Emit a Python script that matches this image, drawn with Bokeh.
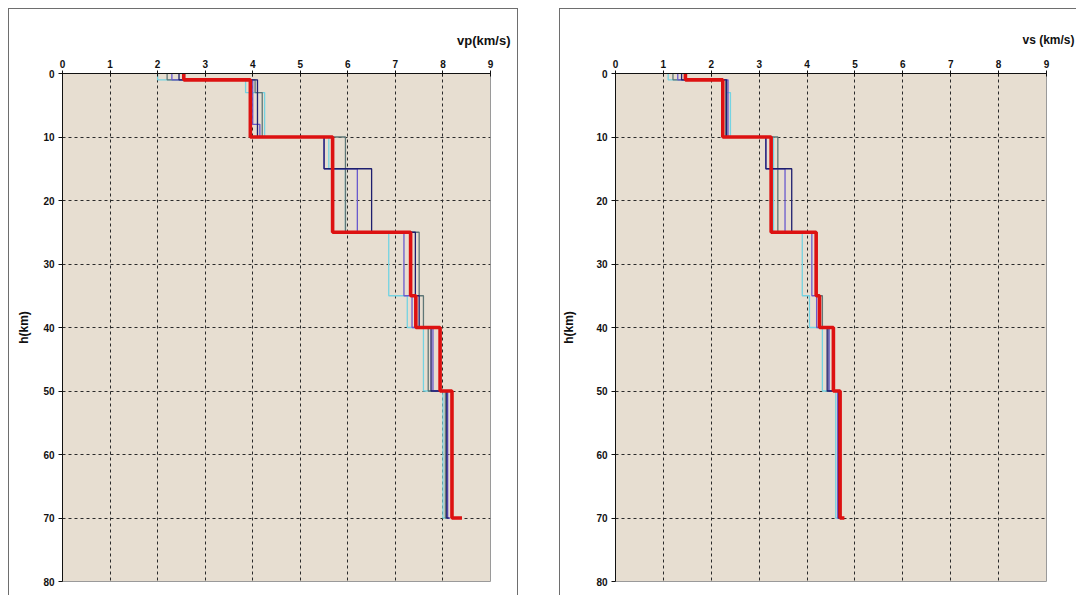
from bokeh.plotting import figure
from bokeh.models import Range1d, FixedTicker, Title
from bokeh.layouts import row
from bokeh.embed import file_html
from bokeh.resources import INLINE

# ---------------- data ----------------
x_ticks = [0, 1, 2, 3, 4, 5, 6, 7, 8, 9]
h_ticks = [0, 10, 20, 30, 40, 50, 60, 70, 80]

# Vp models: layer boundary depths (km) and velocities (last = half-space value)
vp_cyan_depth = [0, 1, 3, 10, 15, 25, 35, 40, 50, 70]
vp_cyan = [2.0, 3.85, 4.25, 5.6, 5.95, 6.86, 7.25, 7.59, 8.0, 8.1]
vp_gray_depth = [0, 1, 3, 10, 25, 35, 40, 50, 70]
vp_gray = [2.2, 4.05, 4.2, 5.95, 7.5, 7.59, 7.69, 8.05, 8.1]
vp_purple_depth = [0, 1, 8, 10, 15, 25, 35, 40, 50, 70]
vp_purple = [2.3, 4.0, 4.15, 5.5, 6.2, 7.18, 7.35, 7.79, 8.1, 8.15]
vp_navy_depth = [0, 1, 10, 15, 25, 35, 40, 50, 70]
vp_navy = [2.45, 4.1, 5.5, 6.5, 7.42, 7.5, 7.75, 8.08, 8.12]
vp_red_depth = [0, 1, 10, 25, 35, 40, 50, 70]
vp_red = [2.55, 3.95, 5.68, 7.32, 7.43, 7.94, 8.19, 8.4]

# Vs models
vs_cyan_depth = [0, 1, 3, 10, 25, 35, 40, 50, 70]
vs_cyan = [1.1, 2.3, 2.4, 3.3, 3.9, 4.05, 4.32, 4.6, 4.65]
vs_gray_depth = [0, 1, 10, 25, 35, 40, 50, 70]
vs_gray = [1.2, 2.3, 3.39, 4.2, 4.32, 4.45, 4.65, 4.7]
vs_purple_depth = [0, 1, 10, 15, 25, 35, 40, 50, 70]
vs_purple = [1.3, 2.35, 3.14, 3.54, 4.1, 4.2, 4.46, 4.64, 4.68]
vs_navy_depth = [0, 1, 10, 15, 25, 35, 40, 50, 70]
vs_navy = [1.38, 2.32, 3.14, 3.68, 4.19, 4.25, 4.42, 4.66, 4.7]
vs_red_depth = [0, 1, 10, 25, 35, 40, 50, 70]
vs_red = [1.46, 2.24, 3.25, 4.19, 4.26, 4.55, 4.69, 4.78]

C_CYAN = "#74D3E2"
C_GRAY = "#5F7676"
C_PURPLE = "#6A5ACD"
C_NAVY = "#1E1E6E"
C_RED = "#DD1111"

TICK_FONT = "Liberation Sans"


def steps(depths, vels):
    xs, ys = [], []
    for i in range(len(depths) - 1):
        xs += [vels[i], vels[i]]
        ys += [depths[i], depths[i + 1]]
    xs.append(vels[-1])
    ys.append(depths[-1])
    return xs, ys


def make_panel(width, mbl, mbr, models, red, shadow, axis_std):
    p = figure(width=width, height=587,
               x_range=Range1d(0, 9), y_range=Range1d(80, 0),
               x_axis_location="above",
               output_backend="svg", toolbar_location=None,
               min_border_left=mbl, min_border_right=mbr,
               min_border_top=65, min_border_bottom=14)
    p.styles = {"box-shadow": shadow}
    p.border_fill_color = None
    p.background_fill_color = "#E7DED1"
    p.outline_line_color = "#9A9A9A"
    p.outline_line_width = 1

    p.xgrid.ticker = FixedTicker(ticks=x_ticks[1:-1])
    p.ygrid.ticker = FixedTicker(ticks=h_ticks[1:-1])
    for g in (p.xgrid, p.ygrid):
        g.grid_line_color = "#2A2A2A"
        g.grid_line_dash = "3 3"
        g.grid_line_width = 1

    xa = p.xaxis[0]
    xa.ticker = FixedTicker(ticks=x_ticks)
    xa.major_tick_in = 3
    xa.major_tick_out = 3
    xa.major_label_standoff = 3
    ya = p.yaxis[0]
    ya.ticker = FixedTicker(ticks=h_ticks)
    ya.major_tick_in = 0
    ya.major_tick_out = 4
    ya.major_label_standoff = 4
    ya.axis_label = "h(km)"
    ya.axis_label_standoff = axis_std
    ya.axis_label_text_font = TICK_FONT
    ya.axis_label_text_font_style = "bold"
    ya.axis_label_text_font_size = "12px"
    ya.axis_label_text_color = "#111111"
    for a in (xa, ya):
        a.axis_line_color = "#111111"
        a.major_tick_line_color = "#111111"
        a.minor_tick_line_color = None
        a.major_label_text_font = TICK_FONT
        a.major_label_text_font_style = "bold"
        a.major_label_text_font_size = "10px"
        a.major_label_text_color = "#111111"

    for (d, v, c) in models:
        xs, ys = steps(d, v)
        p.line(xs, ys, line_color=c, line_width=1.3)
    xs, ys = steps(red[0], red[1])
    p.line(xs, ys, line_color=C_RED, line_width=3.6)
    return p


p1 = make_panel(
    510, 54, 28,
    [(vp_cyan_depth, vp_cyan, C_CYAN), (vp_gray_depth, vp_gray, C_GRAY),
     (vp_purple_depth, vp_purple, C_PURPLE), (vp_navy_depth, vp_navy, C_NAVY)],
    (vp_red_depth, vp_red),
    "inset 1px 1px 0 0 #6E6E6E, inset -1px 0 0 0 #6E6E6E", 9)
p1.add_layout(Title(text="vp(km/s)", align="right", offset=-20, standoff=18,
                    text_font="Liberation Sans", text_font_style="bold",
                    text_font_size="13px", text_color="#111111"), "above")

p2 = make_panel(
    517, 56, 30,
    [(vs_cyan_depth, vs_cyan, C_CYAN), (vs_gray_depth, vs_gray, C_GRAY),
     (vs_purple_depth, vs_purple, C_PURPLE), (vs_navy_depth, vs_navy, C_NAVY)],
    (vs_red_depth, vs_red),
    "inset 1px 1px 0 0 #6E6E6E", 17)
p2.add_layout(Title(text="vs (km/s)", align="right", offset=-28, standoff=20,
                    text_font="Liberation Sans", text_font_style="bold",
                    text_font_size="12px", text_color="#111111"), "above")

layout = row(p1, p2, spacing=41, margin=(8, 0, 0, 8))
open("out.html", "w").write(file_html(layout, INLINE))
